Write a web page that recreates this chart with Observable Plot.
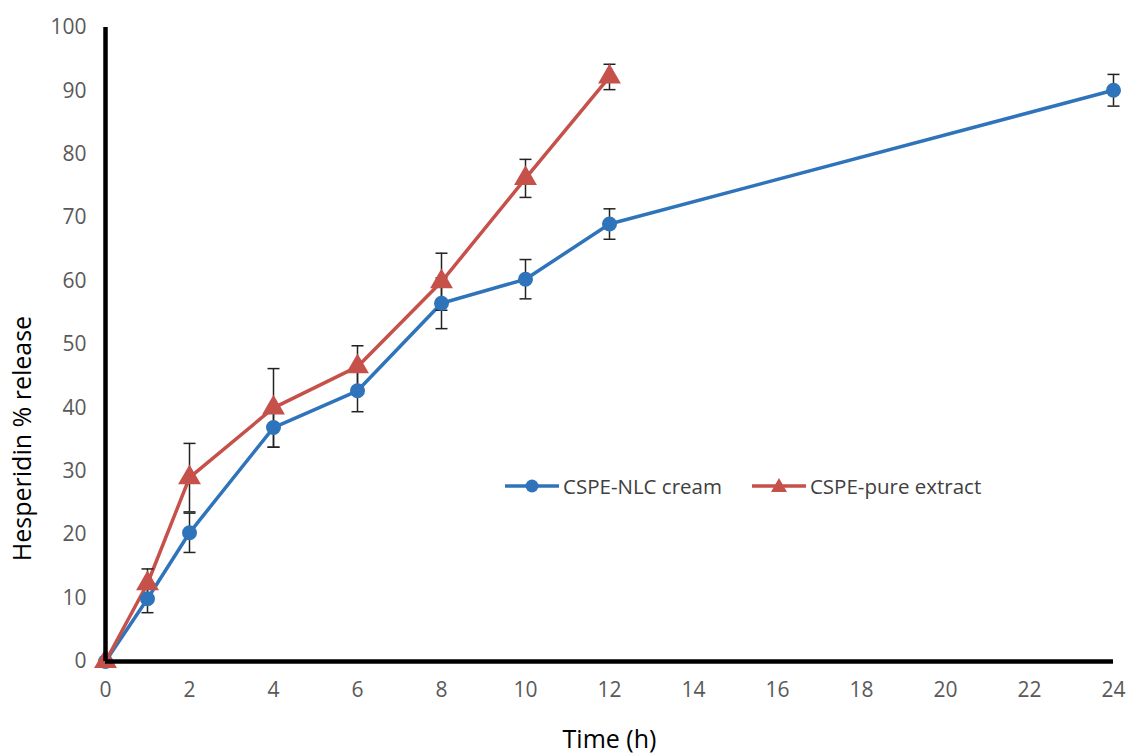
<!DOCTYPE html>
<html>
<head>
<meta charset="utf-8">
<script src="https://cdn.jsdelivr.net/npm/d3@7"></script>
<script src="https://cdn.jsdelivr.net/npm/@observablehq/plot@0.6"></script>
<style>
  html, body { margin: 0; padding: 0; background: #fff; }
  #wrap { position: relative; width: 1131px; height: 754px; font-family: "Open Sans", sans-serif; }
  #legend { position: absolute; left: 505px; top: 472px; display: flex; gap: 30px; font-size: 20.5px; color: #404040; align-items: center; }
  #legend .item { display: flex; align-items: center; gap: 4px; }
</style>
</head>
<body>
<div id="wrap">
  <div id="chart"></div>
  <div id="legend"></div>
</div>
<script>
const nlcTimes = [0, 1, 2, 4, 6, 8, 10, 12, 24];
const nlcValues = [0, 9.9, 20.3, 36.9, 42.7, 56.5, 60.3, 69.0, 90.1];
const nlcErrors = [0, 2.2, 3.1, 3.1, 3.3, 4.0, 3.1, 2.4, 2.5];
const pureTimes = [0, 1, 2, 4, 6, 8, 10, 12];
const pureValues = [0, 12.3, 29.0, 40.0, 46.5, 59.9, 76.2, 92.2];
const pureErrors = [0, 2.3, 5.4, 6.2, 3.3, 4.5, 3.0, 2.0];
const seriesNames = ["CSPE-NLC cream", "CSPE-pure extract"];
const seriesColors = ["#2f74bb", "#c5514a"];
const xTicks = [0, 2, 4, 6, 8, 10, 12, 14, 16, 18, 20, 22, 24];
const yTicks = [0, 10, 20, 30, 40, 50, 60, 70, 80, 90, 100];

const nlc = nlcTimes.map((t, i) => ({t, v: nlcValues[i], e: nlcErrors[i]}));
const pure = pureTimes.map((t, i) => ({t, v: pureValues[i], e: pureErrors[i]}));

const capSymbol = {
  draw(ctx, size) {
    const r = Math.sqrt(size / Math.PI);
    ctx.moveTo(-r, 0);
    ctx.lineTo(r, 0);
  }
};

function errMarks(data) {
  const d = data.filter(p => p.e > 0);
  return [
    Plot.ruleX(d, {x: "t", y1: p => p.v - p.e, y2: p => p.v + p.e, stroke: "#222", strokeWidth: 1.5}),
    Plot.dot(d, {x: "t", y: p => p.v - p.e, symbol: capSymbol, r: 6, stroke: "#222", strokeWidth: 1.5, fill: "none"}),
    Plot.dot(d, {x: "t", y: p => p.v + p.e, symbol: capSymbol, r: 6, stroke: "#222", strokeWidth: 1.5, fill: "none"})
  ];
}

const chart = Plot.plot({
  width: 1131,
  height: 754,
  marginLeft: 105,
  marginRight: 18,
  marginTop: 27,
  marginBottom: 93,
  style: {fontFamily: "Open Sans, sans-serif", background: "#fff"},
  x: {domain: [0, 24], label: null},
  y: {domain: [0, 100], label: null},
  marks: [
    Plot.axisX({ticks: xTicks, tickSize: 0, tickPadding: 21, fontSize: 21, color: "#595959", label: null}),
    Plot.axisY({ticks: yTicks, tickSize: 0, tickPadding: 19, fontSize: 21, color: "#595959", label: null}),
    Plot.line(nlc, {x: "t", y: "v", stroke: seriesColors[0], strokeWidth: 3.5}),
    Plot.line(pure, {x: "t", y: "v", stroke: seriesColors[1], strokeWidth: 3.5}),
    ...errMarks(nlc),
    ...errMarks(pure),
    Plot.dot(nlc, {x: "t", y: "v", r: 7.5, fill: seriesColors[0]}),
    Plot.dot(pure, {x: "t", y: "v", r: 8.5, symbol: "triangle", fill: seriesColors[1]}),
    Plot.ruleX([0], {stroke: "#000", strokeWidth: 4.5}),
    Plot.ruleY([0], {stroke: "#000", strokeWidth: 4.5}),
    Plot.text(["Time (h)"], {frameAnchor: "bottom", dy: 86, fontSize: 25, fill: "#000"}),
    Plot.text(["Hesperidin % release"], {frameAnchor: "left", textAnchor: "middle", dx: -83, dy: 94, rotate: -90, fontSize: 25, fill: "#000"})
  ]
});
document.getElementById("chart").appendChild(chart);

// legend
const legend = document.getElementById("legend");
seriesNames.forEach((name, i) => {
  const item = document.createElement("div");
  item.className = "item";
  const sym = i === 0
    ? `<circle cx="27" cy="14" r="6.5" fill="${seriesColors[i]}"/>`
    : `<path d="M27,6 L35,20 L19,20 Z" fill="${seriesColors[i]}"/>`;
  item.innerHTML = `<svg width="54" height="28"><line x1="0" x2="54" y1="14" y2="14" stroke="${seriesColors[i]}" stroke-width="3.5"/>${sym}</svg><span>${name}</span>`;
  legend.appendChild(item);
});
</script>
</body>
</html>
